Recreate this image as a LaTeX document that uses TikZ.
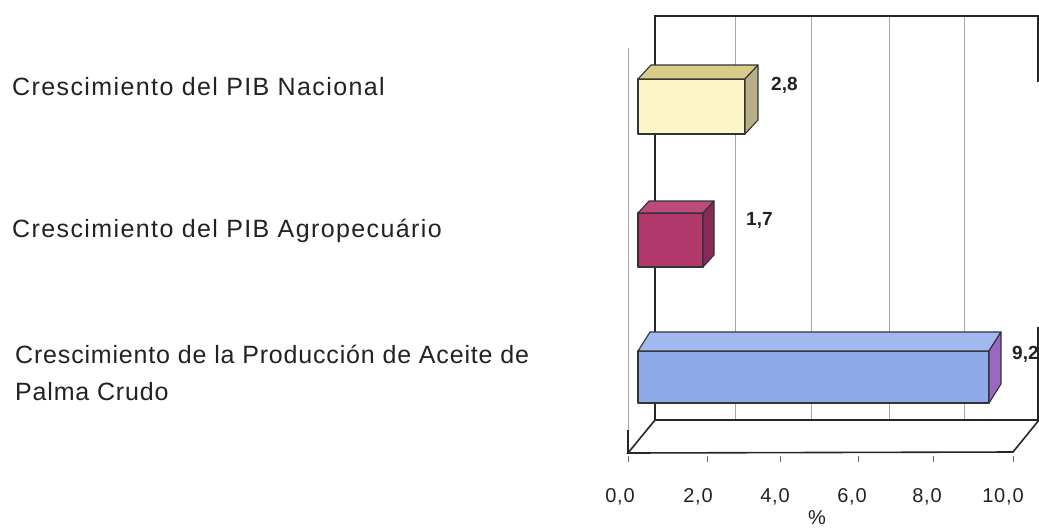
\documentclass[tikz,border=0pt]{standalone}
\usepackage{fontspec}
\setmainfont{Liberation Sans}
\newfontfamily\lblfont[LetterSpace=5.6]{Liberation Sans}
\newfontfamily\lblfontb[LetterSpace=3.3]{Liberation Sans}
\newfontfamily\tckfont[LetterSpace=4]{Liberation Sans}
\definecolor{yfront}{HTML}{FBF5C8}
\definecolor{ytop}{HTML}{D8CC88}
\definecolor{yside}{HTML}{B8AE88}
\definecolor{mfront}{HTML}{B0386A}
\definecolor{mtop}{HTML}{BC4A7C}
\definecolor{mside}{HTML}{8A2858}
\definecolor{bfront}{HTML}{8EAAE8}
\definecolor{btop}{HTML}{A2B8F0}
\definecolor{bside}{HTML}{9A68C0}
\definecolor{txt}{HTML}{222222}
\tikzset{
  wall/.style={line width=1.6pt, draw=black!85},
  gridln/.style={line width=0.8pt, draw=black!35},
  faceln/.style={line width=1.1pt, draw=black!80, line join=round},
  catlabel/.style={anchor=base west, inner sep=0pt, font=\lblfont\fontsize{25}{29}\selectfont, text=txt},
  catlabelb/.style={anchor=base west, inner sep=0pt, font=\lblfontb\fontsize{25}{29}\selectfont, text=txt},
  ticklabel/.style={anchor=base, inner sep=0pt, font=\tckfont\fontsize{20}{24}\selectfont, text=txt},
  vallabel/.style={anchor=base west, inner sep=0pt, font=\bfseries\fontsize{19}{23}\selectfont, text=txt},
  tickmark/.style={line width=0.8pt, draw=black!60}
}
\begin{document}
\begin{tikzpicture}[x=1pt,y=-1pt]
\useasboundingbox[fill=white] (0,0) rectangle (1039,528);

% back wall grid lines
\foreach \gx in {735,811,889,964}{
  \draw[gridln] (\gx,16) -- (\gx,420);
}
% left wall front edge (faint)
\draw[gridln] (628,48) -- (628,453);
\draw[wall] (628,430) -- (628,453);
% back wall frame
\draw[wall] (655,420) -- (655,16) -- (1039,16);
\draw[wall] (1038,16) -- (1038,82);
\draw[wall] (1038,327) -- (1038,420);
% floor
\draw[wall] (655,420) -- (1039,420);
\draw[wall] (655,420) -- (628,453) -- (1013,452) -- (1039,420);
% ticks below floor
\foreach \tx in {628,707,780,858,933,1013}{
  \draw[tickmark] (\tx,456) -- (\tx,462);
}

% bar 1 : 2,8
\filldraw[faceln, fill=yfront] (638,79) rectangle (745,134);
\filldraw[faceln, fill=ytop] (638,79) -- (745,79) -- (758,65) -- (651,65) -- cycle;
\filldraw[faceln, fill=yside] (745,79) -- (758,65) -- (758,120) -- (745,134) -- cycle;
% bar 2 : 1,7
\filldraw[faceln, fill=mfront] (638,213) rectangle (703,267);
\filldraw[faceln, fill=mtop] (638,213) -- (703,213) -- (714,201) -- (649,201) -- cycle;
\filldraw[faceln, fill=mside] (703,213) -- (714,201) -- (714,255) -- (703,267) -- cycle;
% bar 3 : 9,2
\filldraw[faceln, fill=bfront] (638,351) rectangle (989,403);
\filldraw[faceln, fill=btop] (638,351) -- (989,351) -- (1001,332) -- (650,332) -- cycle;
\filldraw[faceln, fill=bside] (989,351) -- (1001,332) -- (1001,384) -- (989,403) -- cycle;

% value labels
\node[vallabel] (v1) at (771,90) {2,8};
\node[vallabel] (v2) at (746,225) {1,7};
\node[vallabel] (v3) at (1012,359) {9,2};

% category labels
\node[catlabel] (c1) at (12,95) {Crescimiento del PIB Nacional};
\node[catlabel] (c2) at (12,237) {Crescimiento del PIB Agropecuário};
\node[catlabelb] (c3a) at (15,363) {Crescimiento de la Producción de Aceite de};
\node[catlabelb] (c3b) at (15,400) {Palma Crudo};

% axis tick labels
\node[ticklabel] (t0) at (620,502) {0,0};
\node[ticklabel] (t2) at (698,502) {2,0};
\node[ticklabel] (t4) at (775,502) {4,0};
\node[ticklabel] (t6) at (852,502) {6,0};
\node[ticklabel] (t8) at (927,502) {8,0};
\node[ticklabel] (t10) at (1003,502) {10,0};
\node[ticklabel] (pct) at (817,524) {\%};
\end{tikzpicture}
\end{document}
